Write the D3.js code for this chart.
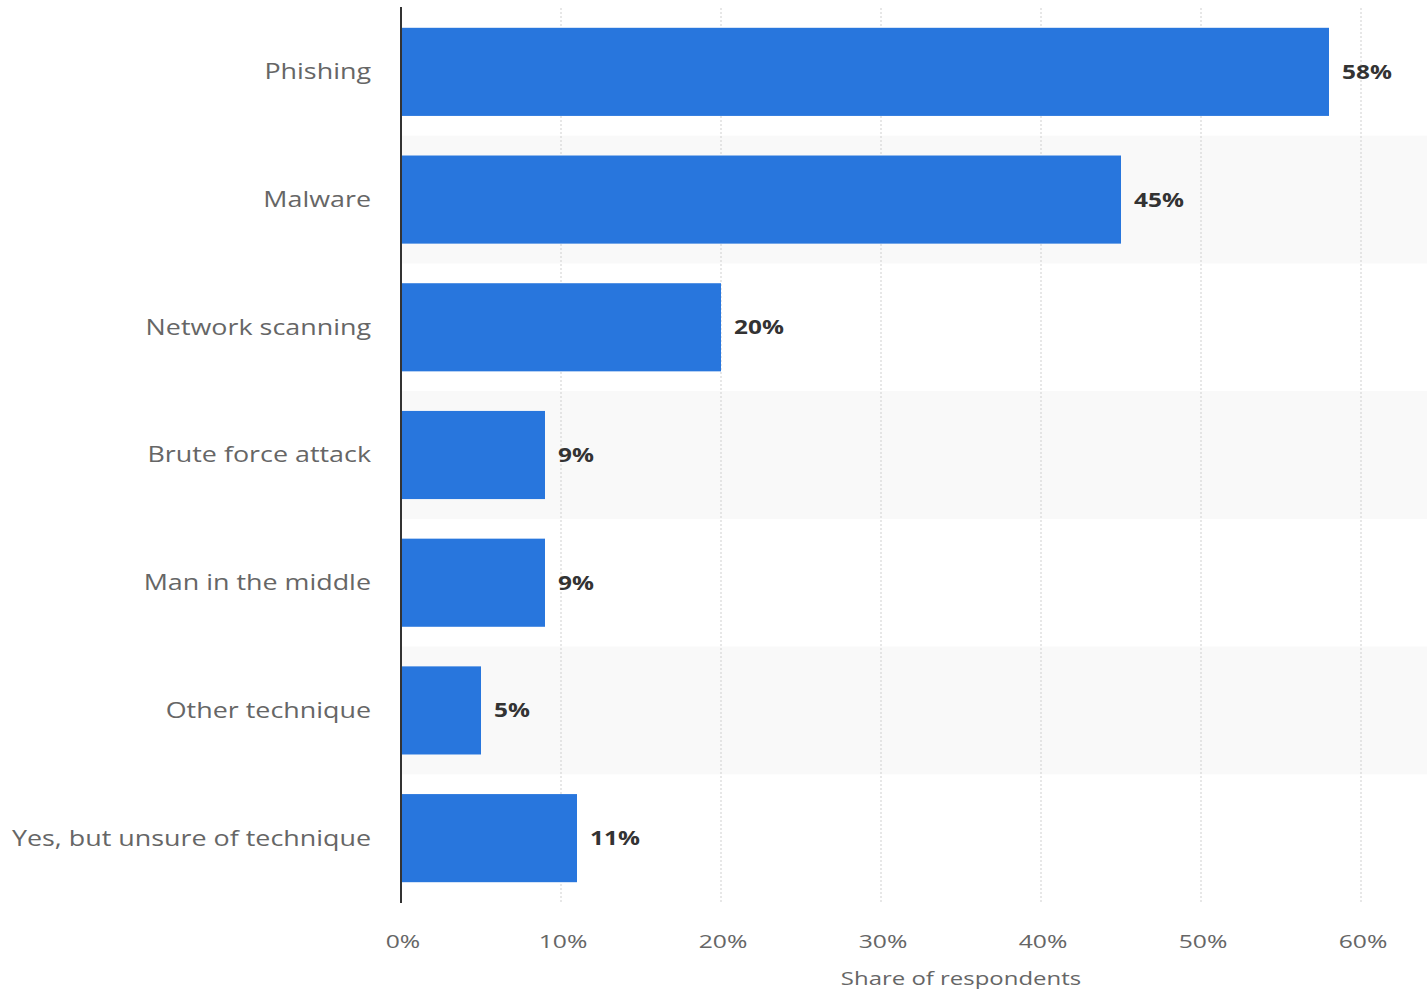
<!DOCTYPE html>
<html>
<head>
<meta charset="utf-8">
<script src="https://cdn.jsdelivr.net/npm/d3@7"></script>
<style>
  body { margin: 0; background: #fff; }
  svg text { font-family: "Open Sans", "Noto Sans", sans-serif; }
</style>
</head>
<body>
<div id="chart"></div>
<script>
var categories = ["Phishing", "Malware", "Network scanning", "Brute force attack",
    "Man in the middle", "Other technique", "Yes, but unsure of technique"];
var shares = [58, 45, 20, 9, 9, 5, 11];
var tickValues = [0, 10, 20, 30, 40, 50, 60];
var axisTitle = "Share of respondents";

var width = 1427, height = 993;
var margin = {top: 8, right: 66, bottom: 91, left: 401};

var svg = d3.select("#chart").append("svg")
    .attr("width", width)
    .attr("height", height);

var x = d3.scaleLinear()
    .domain([0, 60])
    .range([margin.left, width - margin.right]);

var y = d3.scaleBand()
    .domain(categories)
    .range([margin.top, height - margin.bottom])
    .paddingInner(0.31)
    .paddingOuter(0.155);

var step = y.step();
var gap = step - y.bandwidth();

// the source text is wider than plain Open Sans, stretch it
function place(px, py, sx) {
    return "translate(" + px + "," + py + ") scale(" + sx + ",1)";
}

// alternating stripes
svg.append("g").selectAll("rect")
    .data(categories.filter(function(d, i) { return i % 2 == 1; }))
    .enter().append("rect")
    .attr("x", margin.left)
    .attr("y", function(d) { return y(d) - gap / 2; })
    .attr("width", width - margin.left)
    .attr("height", step)
    .attr("fill", "#f9f9f9");

// gridlines
svg.append("g").selectAll("line")
    .data(tickValues.slice(1))
    .enter().append("line")
    .attr("x1", function(d) { return x(d); })
    .attr("x2", function(d) { return x(d); })
    .attr("y1", margin.top)
    .attr("y2", 903)
    .attr("stroke", "#cfcfcf")
    .attr("stroke-width", 1)
    .attr("stroke-dasharray", "2,2");

// bars
svg.append("g").selectAll("rect")
    .data(shares)
    .enter().append("rect")
    .attr("x", x(0))
    .attr("y", function(d, i) { return y(categories[i]); })
    .attr("width", function(d) { return x(d) - x(0); })
    .attr("height", y.bandwidth())
    .attr("fill", "#2876dd");

// value labels
svg.append("g").selectAll("text")
    .data(shares)
    .enter().append("text")
    .attr("transform", function(d, i) {
        return place(x(d) + 13, y(categories[i]) + y.bandwidth() / 2, 1.22);
    })
    .attr("dy", "0.35em")
    .attr("font-size", 20)
    .attr("font-weight", "bold")
    .attr("fill", "#333")
    .text(function(d) { return d + "%"; });

// category labels
svg.append("g").selectAll("text")
    .data(categories)
    .enter().append("text")
    .attr("transform", function(d) {
        return place(margin.left - 30, y(d) + y.bandwidth() / 2, 1.28);
    })
    .attr("dy", "0.35em")
    .attr("text-anchor", "end")
    .attr("font-size", 21)
    .attr("fill", "#666")
    .text(function(d) { return d; });

// axis line
svg.append("line")
    .attr("x1", x(0)).attr("x2", x(0))
    .attr("y1", 7).attr("y2", 903)
    .attr("stroke", "#333")
    .attr("stroke-width", 2);

// tick labels
svg.append("g").selectAll("text")
    .data(tickValues)
    .enter().append("text")
    .attr("transform", function(d) { return place(x(d) + 2, 941, 1.3); })
    .attr("dy", "0.35em")
    .attr("text-anchor", "middle")
    .attr("font-size", 19)
    .attr("fill", "#666")
    .text(function(d) { return d + "%"; });

svg.append("text")
    .attr("transform", place(961, 978, 1.26))
    .attr("dy", "0.35em")
    .attr("text-anchor", "middle")
    .attr("font-size", 19)
    .attr("fill", "#666")
    .text(axisTitle);
</script>
</body>
</html>
